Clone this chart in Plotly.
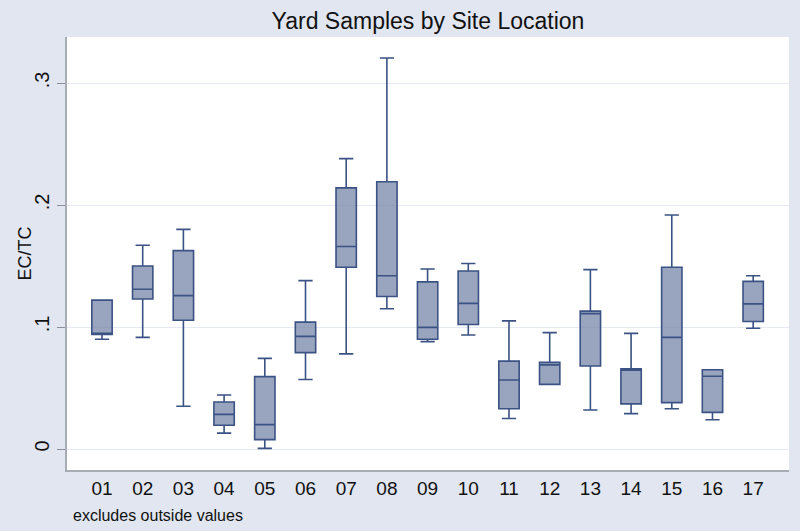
import plotly.graph_objects as go

sites = ["01", "02", "03", "04", "05", "06", "07", "08", "09", "10", "11", "12", "13", "14", "15", "16", "17"]
lower = [0.090, 0.0915, 0.035, 0.013, 0.0005, 0.057, 0.078, 0.115, 0.088, 0.0935, 0.025, 0.053, 0.032, 0.029, 0.033, 0.024, 0.099]
q1 = [0.094, 0.123, 0.1055, 0.0195, 0.0077, 0.079, 0.149, 0.125, 0.090, 0.102, 0.033, 0.053, 0.068, 0.037, 0.038, 0.030, 0.1045]
median = [0.0945, 0.131, 0.1257, 0.0284, 0.020, 0.0923, 0.166, 0.142, 0.0997, 0.1194, 0.0566, 0.069, 0.111, 0.0645, 0.0915, 0.0596, 0.119]
q3 = [0.122, 0.150, 0.1626, 0.0385, 0.0593, 0.104, 0.214, 0.219, 0.137, 0.1459, 0.072, 0.071, 0.113, 0.0658, 0.149, 0.065, 0.1374]
upper = [0.122, 0.167, 0.180, 0.0443, 0.0743, 0.138, 0.238, 0.3205, 0.1475, 0.152, 0.105, 0.0954, 0.147, 0.0948, 0.1918, 0.065, 0.142]

y_ticks = [0, 0.1, 0.2, 0.3]
y_tick_labels = ["0", ".1", ".2", ".3"]

fig = go.Figure()
fig.add_trace(go.Box(
    x=sites,
    q1=q1,
    median=median,
    q3=q3,
    lowerfence=lower,
    upperfence=upper,
    boxpoints=False,
    width=0.5,
    whiskerwidth=0.7,
    fillcolor="rgba(124,140,172,0.78)",
    line=dict(color="#3B5284", width=1.6),
    showlegend=False,
    hoverinfo="skip",
))

fig.update_layout(
    width=800, height=531,
    margin=dict(l=67, r=11, t=37, b=61, autoexpand=False),
    paper_bgcolor="#E1E6F0",
    plot_bgcolor="#FFFFFF",
    font=dict(family="Liberation Sans, Arial, sans-serif", color="#111111"),
    title=dict(text="Yard Samples by Site Location", x=0.535, xanchor="center",
               y=1 - 21 / 531, yanchor="middle", font=dict(size=23, color="#111111")),
    xaxis=dict(
        type="category",
        range=[-0.86, 16.88],
        showgrid=False,
        showline=True, linecolor="#A8ADB5", linewidth=1.5,
        ticks="", tickfont=dict(size=19, color="#111111"),
        zeroline=False,
        automargin=False,
    ),
    yaxis=dict(
        range=[-0.0172, 0.3377],
        tickvals=y_ticks, ticktext=y_tick_labels,
        tickangle=-90,
        ticks="outside", ticklen=8, tickcolor="#8A9099", tickwidth=1,
        tickfont=dict(size=20, color="#111111"),
        showgrid=True, gridcolor="#E4E9F3", gridwidth=1.2,
        showline=True, linecolor="#A8ADB5", linewidth=1.5,
        zeroline=False,
        automargin=False,
    ),
    annotations=[
        dict(
            text="EC/TC", xref="paper", yref="paper",
            x=(24 - 67) / 722, y=0.5, xanchor="center", yanchor="middle",
            textangle=-90, showarrow=False, font=dict(size=18, color="#111111"),
        ),
        dict(
            text="excludes outside values", xref="paper", yref="paper",
            x=(71 - 67) / 722, y=-(515 - 470) / 433, xanchor="left", yanchor="middle",
            showarrow=False, font=dict(size=16, color="#111111"),
        ),
    ],
)

fig.write_html("out.html", config={"displayModeBar": False},
               post_script="document.body.style.margin='0';")
